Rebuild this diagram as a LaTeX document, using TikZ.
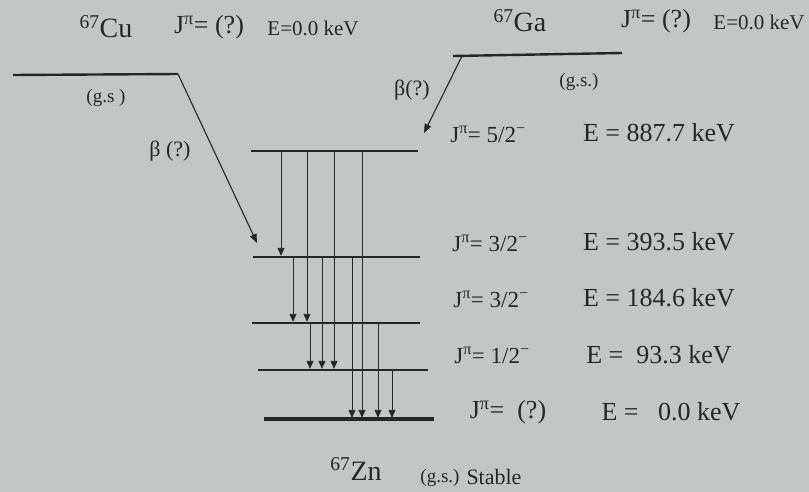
\documentclass[tikz,border=0pt]{standalone}
\usepackage{fontspec}
\setmainfont{Liberation Serif}
\usetikzlibrary{arrows.meta}
\definecolor{bg}{RGB}{194,199,197}
\definecolor{ink}{RGB}{38,38,38}
\begin{document}
\begin{tikzpicture}[x=1pt,y=-1pt,
  every node/.style={text=ink,inner sep=0pt},
  big/.style={font=\fontsize{28}{30}\selectfont},
  jlab/.style={font=\fontsize{23}{25}\selectfont},
  elab/.style={font=\fontsize{26}{28}\selectfont},
  topj/.style={font=\fontsize{26}{28}\selectfont},
  tope/.style={font=\fontsize{21}{23}\selectfont},
  blab/.style={font=\fontsize{22}{24}\selectfont},
  gs/.style={font=\fontsize{19}{21}\selectfont},
  level/.style={draw=ink,line width=2.4pt},
  glevel/.style={draw=ink,line width=3.4pt},
  gam/.style={draw=ink,line width=0.9pt,-{Triangle[width=7pt,length=8pt]},shorten >=1.2pt},
  beta/.style={draw=ink,line width=1.1pt,-{Triangle[width=7pt,length=9pt]}}]
\fill[bg] (0,0) rectangle (809,492);
\useasboundingbox (0,0) rectangle (809,492);
% parent levels
\coordinate (cuL) at (13,75); \coordinate (cuR) at (178,74);
\coordinate (gaL) at (453,56); \coordinate (gaR) at (622,53);
\draw[level] (cuL) -- (cuR);
\draw[level] (gaL) -- (gaR);
% Zn levels
\coordinate (l4L) at (251,151); \coordinate (l4R) at (418,151);
\coordinate (l3L) at (253,257); \coordinate (l3R) at (420,257);
\coordinate (l2L) at (252,323); \coordinate (l2R) at (420,323);
\coordinate (l1L) at (258,370); \coordinate (l1R) at (428,370);
\coordinate (l0L) at (264,419); \coordinate (l0R) at (434,419);
\draw[level] (l4L) -- (l4R);
\draw[level] (l3L) -- (l3R);
\draw[level] (l2L) -- (l2R);
\draw[level] (l1L) -- (l1R);
\draw[glevel] (l0L) -- (l0R);
% beta arrows
\coordinate (cuEnd) at (257,243);
\coordinate (gaStart) at (462,56);
\coordinate (gaEnd) at (424,133);
\draw[beta] (cuR) -- (cuEnd);
\draw[beta] (gaStart) -- (gaEnd);
% gamma transitions
\coordinate (g1) at (281,0);
\coordinate (g2) at (307,0);
\coordinate (g3) at (334,0);
\coordinate (g4) at (362,0);
\coordinate (g5) at (293,0);
\coordinate (g6) at (322,0);
\coordinate (g7) at (352,0);
\coordinate (g8) at (310,0);
\coordinate (g9) at (378,0);
\coordinate (g10) at (392,0);
\draw[gam] (g1 |- l4L) -- (g1 |- l3L);
\draw[gam] (g2 |- l4L) -- (g2 |- l2L);
\draw[gam] (g3 |- l4L) -- (g3 |- l1L);
\draw[gam] (g4 |- l4L) -- (g4 |- l0L);
\draw[gam] (g5 |- l3L) -- (g5 |- l2L);
\draw[gam] (g6 |- l3L) -- (g6 |- l1L);
\draw[gam] (g7 |- l3L) -- (g7 |- l0L);
\draw[gam] (g8 |- l2L) -- (g8 |- l1L);
\draw[gam] (g9 |- l2L) -- (g9 |- l0L);
\draw[gam] (g10 |- l1L) -- (g10 |- l0L);
% top labels
\node[big] (cu) at (106,27) {\textsuperscript{67}Cu};
\node[topj] (cuJ) at (209,27) {J\textsuperscript{π}= (?)};
\node[tope] (cuE) at (313,28) {E=0.0 keV};
\node[gs] (cugs) at (106,98) {(g.s )};
\node[blab] (cub) at (170,151) {β (?)};
\node[big] (ga) at (520,21) {\textsuperscript{67}Ga};
\node[topj] (gaJ) at (656,21) {J\textsuperscript{π}= (?)};
\node[tope] (gaE) at (759,22) {E=0.0 keV};
\node[gs] (gags) at (579,82) {(g.s.)};
\node[blab] (gab) at (412,90) {β(?)};
% Zn level labels
\node[jlab] (j4) at (488,134) {J\textsuperscript{π}= 5/2\textsuperscript{−}};
\node[elab] (e4) at (659,133) {E = 887.7 keV};
\node[jlab] (j3) at (490,243) {J\textsuperscript{π}= 3/2\textsuperscript{−}};
\node[elab] (e3) at (659,242) {E = 393.5 keV};
\node[jlab] (j2) at (491,299) {J\textsuperscript{π}= 3/2\textsuperscript{−}};
\node[elab] (e2) at (659,298) {E = 184.6 keV};
\node[jlab] (j1) at (492,355) {J\textsuperscript{π}= 1/2\textsuperscript{−}};
\node[elab] (e1) at (659,355) {E =\ \ 93.3 keV};
\node[topj] (j0) at (508,412) {J\textsuperscript{π}=\ \ (?)};
\node[elab] (e0) at (671,412) {E =\ \ \ 0.0 keV};
% bottom
\node[big] (zn) at (356,469) {\textsuperscript{67}Zn};
\node[gs] (zngs) at (440,478) {(g.s.)};
\node[blab] (stable) at (494,477) {Stable};
\end{tikzpicture}
\end{document}
